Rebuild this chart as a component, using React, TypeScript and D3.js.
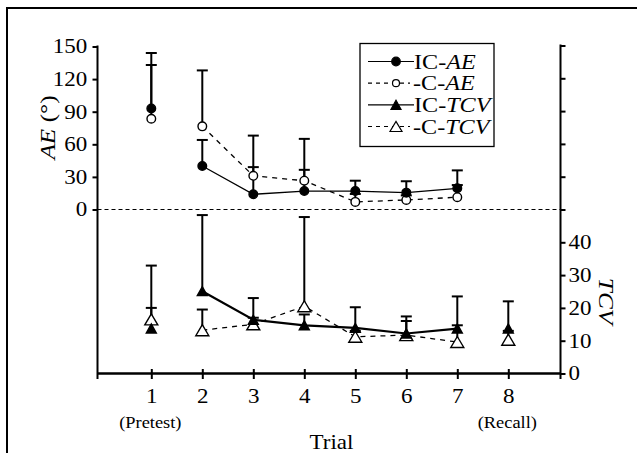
import React, { useRef, useEffect } from "react";
import * as d3 from "d3";

// trials 1..8 (1 = pretest, 8 = recall)
const trials = [1, 2, 3, 4, 5, 6, 7, 8];
const aeTicks = [0, 30, 60, 90, 120, 150];
const tcvTicks = [0, 10, 20, 30, 40, 50, 60, 70, 80, 90, 100];
const tcvLabelled = [0, 10, 20, 30, 40];

// AE (deg), trials 1-7
const icAE = [93, 40, 14, 17, 17, 15.5, 19.5];
const icAEUpper = [144, 64, 39, 36.5, 26.5, 26, 36];
const cAE = [83.5, 76.5, 31, 26.5, 7, 8.8, 11.3];
const cAEUpper = [133, 128, 68, 65, 14.3, 13, 22.5];

// TCV, trials 1-8
const icTCV = [13.7, 25.1, 16.4, 14.7, 13.9, 12.2, 13.7, 13.7];
const icTCVUpper = [32.9, 48.3, 23, 18, 20.2, 16, 23.5, 22];
const cTCV = [16.5, 13.2, 15, 20.5, 11.2, 11.7, 9.6, 10.3];
const cTCVUpper = [20, 19.5, 17, 47.7, 13, 17.4, 14.7, 13];

const legendItems = [
  { pre: "IC-", it: "AE", dash: false, mark: "circle", fill: "#000" },
  { pre: "-C-", it: "AE", dash: true, mark: "circle", fill: "#fff" },
  { pre: "IC-", it: "TCV", dash: false, mark: "tri", fill: "#000" },
  { pre: "-C-", it: "TCV", dash: true, mark: "tri", fill: "#fff" },
];

const FONT = "Liberation Serif, Times New Roman, serif";
const SX = 1.15; // the type in the figure is a little wide

function triPath(cx: number, cy: number, w: number, h: number) {
  return `M${cx - w / 2},${cy + h / 2}L${cx + w / 2},${cy + h / 2}L${cx},${cy - h / 2}Z`;
}

export default function App() {
  const ref = useRef<SVGSVGElement>(null);

  useEffect(() => {
    const svg = d3.select(ref.current);
    svg.selectAll("*").remove();

    const left = 97.5,
      right = 560.5,
      axisY = 373.5,
      zeroY = 209.5;

    const x = d3.scaleLinear().domain([1, 8]).range([151.3, 508.3]);
    const yAE = d3.scaleLinear().domain([0, 150]).range([zeroY, 46.5]);
    const yTCV = d3.scaleLinear().domain([0, 100]).range([axisY, 45.5]);

    const setFont = (sel: any, size: number) =>
      sel.style("font-family", FONT).style("font-size", size + "px").attr("fill", "#000");

    const label = (tx: number, ty: number, size: number, rot = 0) =>
      setFont(
        svg
          .append("text")
          .attr("transform", `translate(${tx},${ty}) rotate(${rot}) scale(${SX},1)`)
          .attr("text-anchor", "middle"),
        size
      );

    // outer frame
    svg
      .append("rect")
      .attr("x", 7)
      .attr("y", 8)
      .attr("width", 660)
      .attr("height", 480)
      .attr("fill", "none")
      .attr("stroke", "#000")
      .attr("stroke-width", 2);

    // zero line
    svg
      .append("line")
      .attr("x1", left)
      .attr("x2", right)
      .attr("y1", zeroY)
      .attr("y2", zeroY)
      .attr("stroke", "#000")
      .attr("stroke-width", 1)
      .attr("stroke-dasharray", "4,3");

    // left axis
    const gl = svg
      .append("g")
      .attr("transform", `translate(${left},0)`)
      .call(d3.axisLeft(yAE).tickValues(aeTicks).tickSize(5).tickPadding(4));
    gl.select(".domain").remove();
    gl.selectAll("line").attr("stroke-width", 2);
    setFont(gl.selectAll("text"), 20).attr("transform", `scale(${SX},1)`);
    svg
      .append("line")
      .attr("x1", left)
      .attr("x2", left)
      .attr("y1", yAE(150) - 1)
      .attr("y2", axisY + 5.5)
      .attr("stroke", "#000")
      .attr("stroke-width", 2);

    // right axis
    const gr = svg
      .append("g")
      .attr("transform", `translate(${right},0)`)
      .call(
        d3
          .axisRight(yTCV)
          .tickValues(tcvTicks)
          .tickSize(5)
          .tickPadding(2)
          .tickFormat((d) => (tcvLabelled.includes(+d) ? String(d) : ""))
      );
    gr.select(".domain").remove();
    gr.selectAll("line").attr("stroke-width", 2);
    setFont(gr.selectAll("text"), 20).attr("transform", `scale(${SX},1)`);
    svg
      .append("line")
      .attr("x1", right)
      .attr("x2", right)
      .attr("y1", yTCV(100) - 1)
      .attr("y2", axisY + 5.5)
      .attr("stroke", "#000")
      .attr("stroke-width", 2);

    // bottom axis
    const gb = svg
      .append("g")
      .attr("transform", `translate(0,${axisY})`)
      .call(d3.axisBottom(x).tickValues(trials).tickSize(5.5).tickPadding(10).tickFormat(d3.format("d")));
    gb.select(".domain").remove();
    gb.selectAll("line").attr("y1", -4.5).attr("stroke-width", 2);
    setFont(gb.selectAll("text"), 20).attr("transform", `scale(${SX},1)`);
    svg
      .append("line")
      .attr("x1", left)
      .attr("x2", right)
      .attr("y1", axisY)
      .attr("y2", axisY)
      .attr("stroke", "#000")
      .attr("stroke-width", 2.5);

    label(x(1) - 1, 428, 16).text("(Pretest)");
    label(x(8) - 1, 428, 16).text("(Recall)");
    label(331.5, 448.5, 20).text("Trial");

    // axis titles
    const ae = label(55, 127.5, 22, -90);
    ae.append("tspan").style("font-style", "italic").text("AE");
    ae.append("tspan").text(" (°)");
    label(599, 301, 22, 90).style("font-style", "italic").text("TCV");

    // error bars
    const bars = (vals: number[], upper: number[], y: d3.ScaleLinear<number, number>) => {
      vals.forEach((v, i) => {
        const cx = x(trials[i]);
        svg
          .append("line")
          .attr("x1", cx)
          .attr("x2", cx)
          .attr("y1", y(v))
          .attr("y2", y(upper[i]))
          .attr("stroke", "#000")
          .attr("stroke-width", 2);
        svg
          .append("line")
          .attr("x1", cx - 5.5)
          .attr("x2", cx + 5.5)
          .attr("y1", y(upper[i]))
          .attr("y2", y(upper[i]))
          .attr("stroke", "#000")
          .attr("stroke-width", 2);
      });
    };
    bars(icAE, icAEUpper, yAE);
    bars(cAE, cAEUpper, yAE);
    bars(icTCV, icTCVUpper, yTCV);
    bars(cTCV, cTCVUpper, yTCV);

    // connecting lines, trials 2-7
    const line = (vals: number[], y: d3.ScaleLinear<number, number>, w: number, dash: boolean) => {
      const pts = vals.map((v, i) => [x(trials[i]), y(v)] as [number, number]).slice(1, 7);
      svg
        .append("path")
        .attr("d", d3.line()(pts))
        .attr("fill", "none")
        .attr("stroke", "#000")
        .attr("stroke-width", w)
        .attr("stroke-dasharray", dash ? "5,5" : null);
    };
    line(icAE, yAE, 1.3, false);
    line(cAE, yAE, 1.3, true);
    line(icTCV, yTCV, 2.2, false);
    line(cTCV, yTCV, 1.3, true);

    // markers
    const circles = (vals: number[], fill: string) =>
      vals.forEach((v, i) =>
        svg
          .append("circle")
          .attr("cx", x(trials[i]))
          .attr("cy", yAE(v))
          .attr("r", 4.3)
          .attr("fill", fill)
          .attr("stroke", "#000")
          .attr("stroke-width", 1.4)
      );
    const tris = (vals: number[], fill: string, w: number, h: number) =>
      vals.forEach((v, i) =>
        svg
          .append("path")
          .attr("d", triPath(x(trials[i]), yTCV(v), w, h))
          .attr("fill", fill)
          .attr("stroke", "#000")
          .attr("stroke-width", 1.4)
      );
    circles(cAE, "#fff");
    circles(icAE, "#000");
    tris(cTCV, "#fff", 13, 11);
    tris(icTCV, "#000", 10, 9);

    // legend
    svg
      .append("rect")
      .attr("x", 360)
      .attr("y", 43.5)
      .attr("width", 134)
      .attr("height", 103)
      .attr("fill", "#fff")
      .attr("stroke", "#000")
      .attr("stroke-width", 1.3);
    const ly = d3.scaleLinear().domain([0, 3]).range([61.5, 126.5]);
    legendItems.forEach((it, i) => {
      const yy = ly(i);
      svg
        .append("line")
        .attr("x1", 368)
        .attr("x2", it.dash ? 410 : 414)
        .attr("y1", yy)
        .attr("y2", yy)
        .attr("stroke", "#000")
        .attr("stroke-width", 1.2)
        .attr("stroke-dasharray", it.dash ? "4,4" : null);
      if (it.mark === "circle") {
        svg
          .append("circle")
          .attr("cx", 396)
          .attr("cy", yy)
          .attr("r", it.dash ? 3.5 : 4.3)
          .attr("fill", it.fill)
          .attr("stroke", "#000")
          .attr("stroke-width", 1.2);
      } else {
        svg
          .append("path")
          .attr("d", it.dash ? triPath(396, yy, 12, 10) : triPath(396, yy, 10, 9))
          .attr("fill", it.fill)
          .attr("stroke", "#000")
          .attr("stroke-width", 1.2);
      }
      const t = setFont(
        svg.append("text").attr("transform", `translate(${it.dash ? 413 : 414},${yy + 7}) scale(${SX},1)`),
        21
      );
      t.append("tspan").text(it.pre);
      t.append("tspan").style("font-style", "italic").text(it.it);
    });
  }, []);

  return (
    <svg
      ref={ref}
      width={637}
      height={453}
      style={{ position: "absolute", left: 0, top: 0, background: "#fff" }}
    />
  );
}
